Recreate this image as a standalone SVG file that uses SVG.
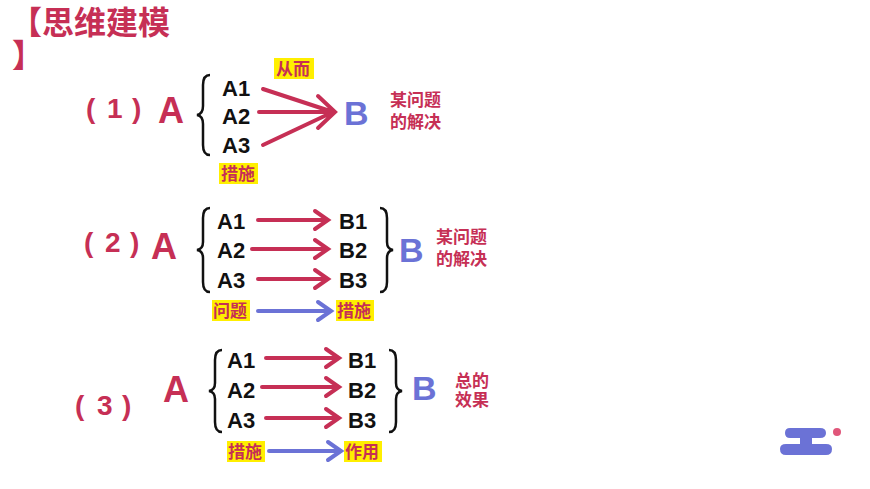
<svg xmlns="http://www.w3.org/2000/svg" width="870" height="489" viewBox="0 0 870 489">
<defs>
<style>
.r{fill:#c62f55;font-family:"Liberation Sans",sans-serif;font-weight:bold}
.t{fill:#c62f55;font-family:"Noto Sans CJK SC",sans-serif;font-weight:bold;font-size:32px}
.k{fill:#111;font-family:"Liberation Sans",sans-serif;font-weight:bold;font-size:22px}
.b{fill:#6b72d6;font-family:"Liberation Sans",sans-serif;font-weight:bold;font-size:34px}
.s{fill:#c62f55;font-family:"Noto Sans CJK SC",sans-serif;font-weight:bold;font-size:17px}
.h{fill:#c62f55;font-family:"Noto Sans CJK SC",sans-serif;font-weight:bold;font-size:17px}
.hl{fill:#ffef00}
.br{fill:none;stroke:#111;stroke-width:2.5}
.ar{stroke:#c62f55;stroke-width:4;fill:none;stroke-linecap:round}
.ab{stroke:#6b72d6;stroke-width:4;fill:none;stroke-linecap:round}
</style>
</defs>
<rect width="870" height="489" fill="#fff"/>
<g id="title"><text class="t" x="10" y="34">【思维建模</text><text class="t" x="12" y="67">】</text></g>

<g id="m1">
<text class="r" font-size="28" y="118"><tspan x="86">(</tspan><tspan x="107">1</tspan><tspan x="132">)</tspan></text>
<text class="r" x="158" y="123" font-size="36">A</text>
<path class="br" d="M210,75 Q203,75 203,85 L203,106 Q203,114 197,115 Q203,116 203,124 L203,145 Q203,155 210,155"/>
<text class="k" x="222" y="96">A1</text>
<text class="k" x="222" y="124">A2</text>
<text class="k" x="222" y="153">A3</text>
<text class="b" x="344" y="125">B</text>
<text class="s" x="390" y="106">某问题</text>
<text class="s" x="390" y="128">的解决</text>
<rect class="hl" x="274" y="58" width="40" height="21"/><text class="h" x="276" y="75">从而</text>
<rect class="hl" x="219" y="163" width="39" height="21"/><text class="h" x="221" y="180">措施</text>
</g>

<g id="m2">
<text class="r" font-size="28" y="252"><tspan x="84">(</tspan><tspan x="105">2</tspan><tspan x="130">)</tspan></text>
<text class="r" x="151" y="259" font-size="36">A</text>
<path class="br" d="M210,208 Q203,208 203,218 L203,242 Q203,249 197,250 Q203,251 203,258 L203,282 Q203,292 210,292"/>
<path class="br" d="M380,208 Q387,208 387,218 L387,242 Q387,249 393,250 Q387,251 387,258 L387,282 Q387,292 380,292"/>
<text class="k" x="217" y="229">A1</text>
<text class="k" x="217" y="258">A2</text>
<text class="k" x="217" y="288">A3</text>
<text class="k" x="339" y="229">B1</text>
<text class="k" x="339" y="258">B2</text>
<text class="k" x="339" y="288">B3</text>
<text class="b" x="399" y="262">B</text>
<text class="s" x="436" y="243">某问题</text>
<text class="s" x="436" y="265">的解决</text>
<rect class="hl" x="212" y="300" width="38" height="21"/><text class="h" x="213" y="317">问题</text>
<rect class="hl" x="336" y="300" width="38" height="21"/><text class="h" x="337" y="317">措施</text>
</g>

<g id="m3">
<text class="r" font-size="28" y="415"><tspan x="75">(</tspan><tspan x="97">3</tspan><tspan x="122">)</tspan></text>
<text class="r" x="163" y="402" font-size="36">A</text>
<path class="br" d="M222,350 Q215,350 215,360 L215,383 Q215,390 209,391 Q215,392 215,399 L215,422 Q215,432 222,432"/>
<path class="br" d="M389,350 Q396,350 396,360 L396,383 Q396,390 402,391 Q396,392 396,399 L396,422 Q396,432 389,432"/>
<text class="k" x="227" y="368">A1</text>
<text class="k" x="227" y="398">A2</text>
<text class="k" x="227" y="428">A3</text>
<text class="k" x="348" y="368">B1</text>
<text class="k" x="348" y="398">B2</text>
<text class="k" x="348" y="428">B3</text>
<text class="b" x="412" y="400">B</text>
<text class="s" x="455" y="387">总的</text>
<text class="s" x="455" y="406">效果</text>
<rect class="hl" x="227" y="441" width="38" height="21"/><text class="h" x="228" y="458">措施</text>
<rect class="hl" x="344" y="441" width="38" height="21"/><text class="h" x="345" y="458">作用</text>
</g>

<g id="connectors">
<path class="ar" d="M263,89 L333,112 M259,112 L333,112 M263,145 L333,112 M318,96 L335,112 L318,128"/>
<path class="ar" d="M258,220 L327,220 M315,211 L328,220 L315,229"/>
<path class="ar" d="M252,249 L327,249 M315,240 L328,249 L315,258"/>
<path class="ar" d="M258,279 L327,279 M315,270 L328,279 L315,288"/>
<path class="ab" d="M258,311 L330,311 M318,302 L331,311 L318,320"/>
<path class="ar" d="M266,358 L338,358 M326,349 L339,358 L326,367"/>
<path class="ar" d="M262,387 L338,387 M326,378 L339,387 L326,396"/>
<path class="ar" d="M266,418 L338,418 M326,409 L339,418 L326,427"/>
<path class="ab" d="M269,451 L340,451 M328,442 L341,451 L328,460"/>
</g>

<g id="logo">
<path d="M790,428 L820,428 Q826,428 826,433 Q826,438 820,438 L812,438 L812,444 L826,444 Q832,444 832,449 Q832,455 826,455 L786,455 Q780,455 780,449 Q780,444 786,444 L800,444 L800,438 L790,438 Q785,438 785,433 Q785,428 790,428 Z" fill="#6b72d6"/>
<circle cx="837" cy="432" r="4" fill="#e0567a"/>
</g>
</svg>
